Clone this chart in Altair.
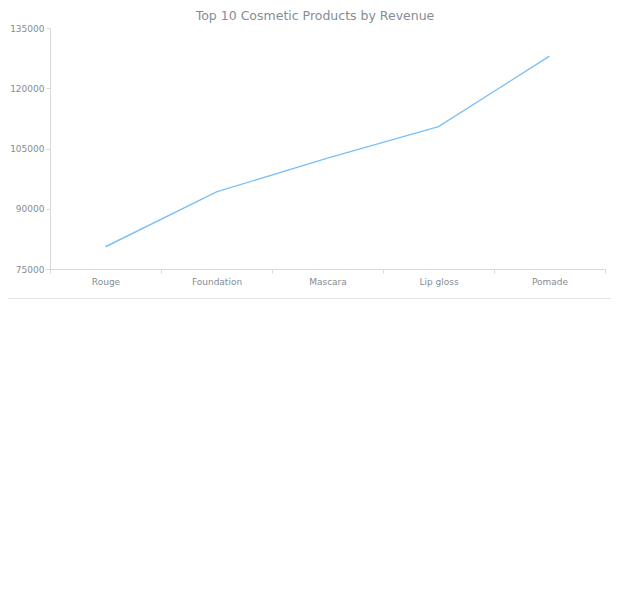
import altair as alt
import pandas as pd

products = ["Rouge", "Foundation", "Mascara", "Lip gloss", "Pomade"]
revenue = [80540, 94190, 102610, 110430, 128000]
y_ticks = [75000, 90000, 105000, 120000, 135000]

df = pd.DataFrame({"product": products, "revenue": revenue})

gray = "#848d95"

line = (
    alt.Chart(df)
    .mark_line(color="#7cc0f7", strokeWidth=1.4)
    .encode(
        x=alt.X(
            "product:N",
            sort=None,
            title=None,
            bandPosition=0.5,
            scale=alt.Scale(type="band", paddingInner=0, paddingOuter=0),
            axis=alt.Axis(labelAngle=0, tickBand="extent", labelPadding=4),
        ),
        y=alt.Y(
            "revenue:Q",
            title=None,
            scale=alt.Scale(domain=[75000, 135000], nice=False),
            axis=alt.Axis(values=y_ticks, format="d", labelPadding=2),
        ),
    )
)

# bottom border of the chart container
border = (
    alt.Chart(df)
    .mark_rule(color="#e3e5e7", strokeWidth=2)
    .encode(x=alt.value(-50), x2=alt.value(580), y=alt.value(271))
)

chart = (
    alt.layer(line, border)
    .properties(
        width=555,
        height=241,
        padding={"left": 42, "top": 20, "right": 6, "bottom": 30},
        autosize=alt.AutoSizeParams(type="none"),
        title=alt.Title(
            "Top 10 Cosmetic Products by Revenue",
            fontSize=12.5,
            fontWeight="normal",
            color=gray,
            font="DejaVu Sans",
            anchor="middle",
            frame="bounds",
            offset=2,
        ),
    )
    .configure_view(stroke=None)
    .configure_axis(
        labelFont="DejaVu Sans",
        labelFontSize=9,
        labelColor=gray,
        domainColor="#d6dadd",
        tickColor="#d6dadd",
        tickSize=4,
        grid=False,
    )
)

chart.save("out.html", embed_options={"renderer": "svg", "actions": False})
